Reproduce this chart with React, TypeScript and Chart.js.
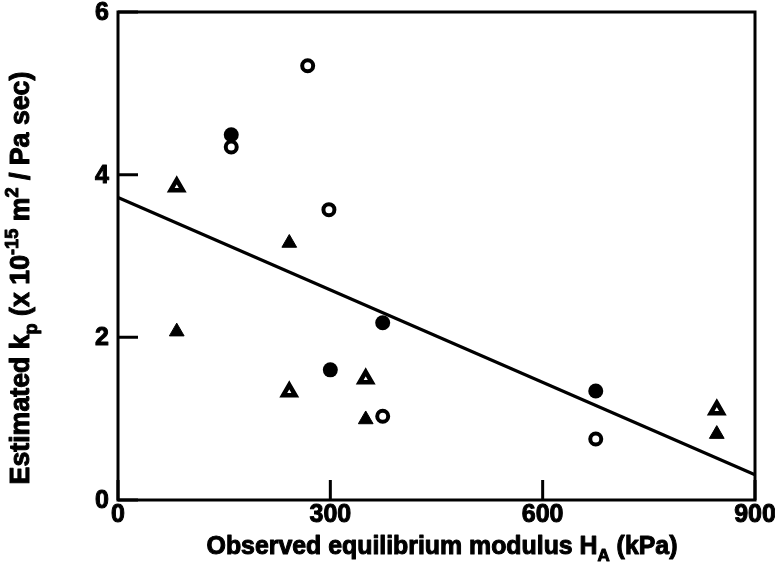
import React, { useEffect, useRef } from "react";
import { Chart, registerables } from "chart.js";

Chart.register(...registerables);

// ---- data ----
const filledCirclesX = [160, 300, 374, 675];
const filledCirclesY = [4.49, 1.6, 2.18, 1.34];
const openCirclesX = [160, 268, 298, 374, 675];
const openCirclesY = [4.34, 5.34, 3.57, 1.03, 0.75];
const filledTrianglesX = [83, 242, 350, 846];
const filledTrianglesY = [2.07, 3.16, 0.99, 0.81];
const openTrianglesX = [83, 242, 350, 846];
const openTrianglesY = [3.85, 1.33, 1.49, 1.11];
const fitLineX = [0, 900];
const fitLineY = [3.72, 0.31];
const xTickValues = [0, 300, 600, 900];
const yTickValues = [0, 2, 4, 6];
const xTickLabels = ["0", "300", "600", "900"];
const yTickLabels = ["0", "2", "4", "6"];

const FONT = '"Liberation Sans", Arial, Helvetica, sans-serif';

const pts = (xs: number[], ys: number[]) => xs.map((x, i) => ({ x, y: ys[i] }));

type Run = { t: string; k: "n" | "sub" | "sup" };

function heavyText(ctx: CanvasRenderingContext2D, t: string, x: number, y: number) {
  ctx.fillText(t, x, y);
  ctx.strokeText(t, x, y);
}

function runWidth(ctx: CanvasRenderingContext2D, runs: Run[], size: number) {
  let w = 0;
  for (const r of runs) {
    const s = r.k === "n" ? size : size * 0.68;
    ctx.font = `bold ${s}px ${FONT}`;
    w += ctx.measureText(r.t).width;
  }
  return w;
}

function drawRuns(ctx: CanvasRenderingContext2D, runs: Run[], targetWidth: number) {
  const w20 = runWidth(ctx, runs, 20);
  const size = (20 * targetWidth) / w20;
  const total = runWidth(ctx, runs, size);
  let x = -total / 2;
  ctx.textBaseline = "middle";
  ctx.textAlign = "left";
  for (const r of runs) {
    const s = r.k === "n" ? size : size * 0.68;
    ctx.font = `bold ${s}px ${FONT}`;
    let dy = 0;
    if (r.k === "sub") dy = size * 0.38;
    if (r.k === "sup") dy = -size * 0.35;
    heavyText(ctx, r.t, x, dy);
    x += ctx.measureText(r.t).width;
  }
}

const xTitleRuns: Run[] = [
  { t: "Observed equilibrium modulus H", k: "n" },
  { t: "A", k: "sub" },
  { t: " (kPa)", k: "n" },
];
const yTitleRuns: Run[] = [
  { t: "Estimated k", k: "n" },
  { t: "p", k: "sub" },
  { t: " (x 10", k: "n" },
  { t: "-15", k: "sup" },
  { t: " m", k: "n" },
  { t: "2", k: "sup" },
  { t: " / Pa sec)", k: "n" },
];

const framePlugin = {
  id: "frame",
  afterDraw(chart: any) {
    const { ctx, chartArea, scales } = chart;
    const { left, top, right, bottom } = chartArea;
    ctx.save();
    ctx.strokeStyle = "#000";
    ctx.lineWidth = 3;
    ctx.strokeRect(left, top, right - left, bottom - top);
    ctx.beginPath();
    for (const v of xTickValues) {
      const px = scales.x.getPixelForValue(v);
      ctx.moveTo(px, bottom);
      ctx.lineTo(px, bottom - 20);
    }
    for (const v of yTickValues) {
      const py = scales.y.getPixelForValue(v);
      ctx.moveTo(left, py);
      ctx.lineTo(left + 20, py);
    }
    ctx.stroke();

    ctx.fillStyle = "#000";
    ctx.lineWidth = 1;
    ctx.lineJoin = "round";
    // tick labels
    ctx.font = `bold 25px ${FONT}`;
    ctx.textAlign = "center";
    ctx.textBaseline = "top";
    xTickValues.forEach((v, i) => {
      heavyText(ctx, xTickLabels[i], scales.x.getPixelForValue(v), bottom + 3);
    });
    ctx.textAlign = "right";
    ctx.textBaseline = "middle";
    yTickValues.forEach((v, i) => {
      heavyText(ctx, yTickLabels[i], left - 9, scales.y.getPixelForValue(v) + 1);
    });

    // x title
    ctx.save();
    ctx.translate(442, 547);
    drawRuns(ctx, xTitleRuns, 471);
    ctx.restore();
    // y title
    ctx.save();
    ctx.translate(22, 278);
    ctx.rotate(-Math.PI / 2);
    drawRuns(ctx, yTitleRuns, 413);
    ctx.restore();
    ctx.restore();
  },
};

export default function App() {
  const ref = useRef<HTMLCanvasElement | null>(null);
  useEffect(() => {
    if (!ref.current) return;
    const chart = new Chart(ref.current, {
      type: "scatter",
      data: {
        datasets: [
          {
            label: "fit",
            data: pts(fitLineX, fitLineY),
            showLine: true,
            borderColor: "#000",
            borderWidth: 3.2,
            pointRadius: 0,
          },
          {
            label: "filled circles",
            data: pts(filledCirclesX, filledCirclesY),
            pointStyle: "circle",
            pointRadius: 7.5,
            backgroundColor: "#000",
            borderColor: "#000",
            borderWidth: 0,
          },
          {
            label: "open circles",
            data: pts(openCirclesX, openCirclesY),
            pointStyle: "circle",
            pointRadius: 5.5,
            backgroundColor: "#fff",
            borderColor: "#000",
            borderWidth: 4,
          },
          {
            label: "filled triangles",
            data: pts(filledTrianglesX, filledTrianglesY),
            pointStyle: "triangle",
            pointRadius: 8.5,
            backgroundColor: "#000",
            borderColor: "#000",
            borderWidth: 1,
          },
          {
            label: "open triangles",
            data: pts(openTrianglesX, openTrianglesY),
            pointStyle: "triangle",
            pointRadius: 7,
            backgroundColor: "#fff",
            borderColor: "#000",
            borderWidth: 4.5,
          },
        ],
      },
      options: {
        animation: false,
        responsive: false,
        layout: { padding: { top: 12, right: 20, left: 0, bottom: 0 } },
        plugins: { legend: { display: false }, tooltip: { enabled: false } },
        scales: {
          x: {
            type: "linear",
            min: 0,
            max: 900,
            afterFit: (s: any) => {
              s.height = 64;
              s.paddingLeft = 0;
              s.paddingRight = 0;
            },
            grid: { display: false, drawTicks: false },
            border: { display: false },
            ticks: { display: false },
          },
          y: {
            type: "linear",
            min: 0,
            max: 6,
            afterFit: (s: any) => {
              s.width = 118;
              s.paddingTop = 0;
              s.paddingBottom = 0;
            },
            grid: { display: false, drawTicks: false },
            border: { display: false },
            ticks: { display: false, stepSize: 2 },
          },
        },
      },
      plugins: [framePlugin],
    });
    return () => chart.destroy();
  }, []);
  return (
    <div style={{ position: "absolute", left: 0, top: 0, width: 775, height: 564, background: "#fff" }}>
      <canvas ref={ref} width={775} height={564} style={{ display: "block" }} />
    </div>
  );
}
